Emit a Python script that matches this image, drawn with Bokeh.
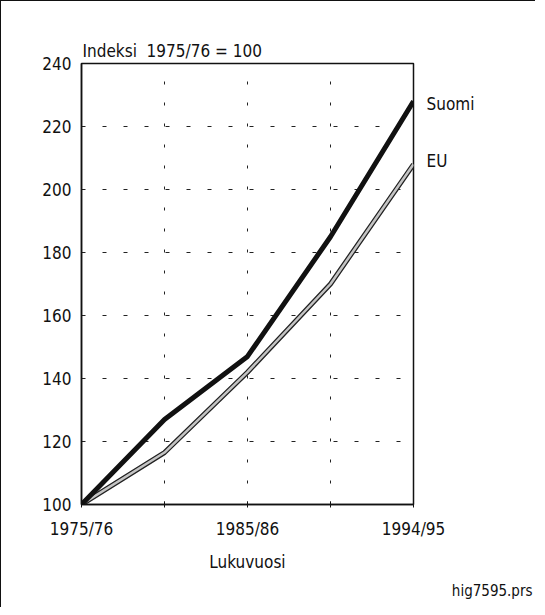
from bokeh.plotting import figure
from bokeh.models import FixedTicker, ColumnDataSource, LinearAxis, Title
from bokeh.embed import file_html
from bokeh.resources import INLINE

years = ["1975/76", "1980/81", "1985/86", "1990/91", "1994/95"]
tick_labels = {0: "1975/76", 1: "", 2: "1985/86", 3: "", 4: "1994/95"}
suomi = [100, 127, 147, 185, 228]
eu = [100, 116.5, 142, 170, 208]
y_ticks = [100, 120, 140, 160, 180, 200, 220, 240]
series_labels = {227: "Suomi", 209: "EU"}

FONT = "'Liberation Sans Narrow', 'Arial Narrow', 'DejaVu Sans Condensed', sans-serif"
INK = "#111111"

xs = list(range(len(years)))
src = ColumnDataSource(dict(x=xs, suomi=suomi, eu=eu))

p = figure(width=535, height=607, x_range=(0, 4), y_range=(100, 240),
           output_backend="svg", toolbar_location=None,
           min_border_left=80, min_border_right=123, min_border_top=62, min_border_bottom=104)
p.styles = {"border-top": "1.5px solid #111", "border-left": "1.5px solid #111"}

p.outline_line_color = INK
p.outline_line_width = 1.5
p.background_fill_color = "white"
p.border_fill_color = "white"

# title (index note)
p.title.text = "Indeksi\u00a0 1975/76 = 100"
p.title.align = "left"
p.title.offset = 1
p.title.standoff = 5
p.title.text_font = FONT
p.title.text_font_size = "17px"
p.title.text_font_style = "normal"
p.title.text_color = INK

# grid
p.xgrid.ticker = FixedTicker(ticks=[1, 2, 3])
p.xgrid.grid_line_color = "#222"
p.xgrid.grid_line_dash = "3 18"
p.xgrid.grid_line_width = 1
p.ygrid.ticker = FixedTicker(ticks=[120, 140, 160, 180, 200, 220])
p.ygrid.grid_line_color = "#222"
p.ygrid.grid_line_dash = "4 17"
p.ygrid.grid_line_width = 1

# axes
p.xaxis.ticker = FixedTicker(ticks=xs)
p.xaxis.major_label_overrides = tick_labels
p.xaxis.major_tick_in = 3
p.xaxis.major_tick_out = 3
p.xaxis.major_tick_line_color = INK
p.xaxis.minor_tick_line_color = None
p.xaxis.axis_line_color = INK
p.xaxis.axis_line_width = 1.5
p.xaxis.major_label_standoff = 11
p.xaxis.axis_label = "Lukuvuosi"
p.xaxis.axis_label_standoff = 10

p.yaxis.ticker = FixedTicker(ticks=y_ticks)
p.yaxis.major_tick_in = 0
p.yaxis.major_tick_out = 0
p.yaxis.minor_tick_line_color = None
p.yaxis.axis_line_color = INK
p.yaxis.axis_line_width = 1.5
p.yaxis.major_label_standoff = 10

# series names at the right side
raxis = LinearAxis(ticker=FixedTicker(ticks=list(series_labels.keys())),
                   major_label_overrides=series_labels)
raxis.axis_line_color = None
raxis.major_tick_line_color = None
raxis.minor_tick_line_color = None
raxis.major_tick_in = 0
raxis.major_tick_out = 0
raxis.major_label_standoff = 13
p.add_layout(raxis, "right")

for ax in (p.xaxis[0], p.yaxis[0], raxis):
    ax.major_label_text_font = FONT
    ax.major_label_text_font_size = "17px"
    ax.major_label_text_color = INK
    ax.axis_label_text_font = FONT
    ax.axis_label_text_font_size = "17px"
    ax.axis_label_text_font_style = "normal"
    ax.axis_label_text_color = INK

# file name note
note = Title(text="hig7595.prs", align="right", offset=-119, standoff=11,
             text_font=FONT, text_font_size="15px", text_font_style="normal",
             text_color=INK)
p.add_layout(note, "below")

# lines
p.line("x", "eu", source=src, line_color="#222", line_width=5)
p.line("x", "eu", source=src, line_color="#c4c4c4", line_width=2.5)
p.line("x", "suomi", source=src, line_color=INK, line_width=5)

open("out.html", "w").write(file_html(p, INLINE))
